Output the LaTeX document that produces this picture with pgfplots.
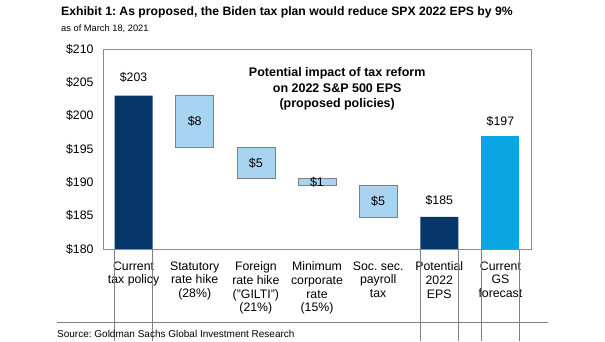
\documentclass[border=0pt]{standalone}
\usepackage{pgfplots}
\pgfplotsset{compat=1.18}
\usepackage{fontspec}
\setmainfont{Liberation Sans}
\definecolor{navy}{HTML}{05376B}
\definecolor{lightbar}{HTML}{A9D4F1}
\definecolor{brightbar}{HTML}{0AA5E3}
\definecolor{axgray}{HTML}{8C8C8C}
\frenchspacing
\begin{document}
\begin{tikzpicture}
\path[use as bounding box] (0,0) rectangle (605pt,-341pt);
\node[anchor=base west, font=\bfseries\fontsize{12.2}{14}\selectfont, inner sep=0pt] at (61pt,-15pt) {Exhibit 1: As proposed, the Biden tax plan would reduce SPX 2022 EPS by 9\%};
\node[anchor=base west, font=\fontsize{9.3}{11}\selectfont, inner sep=0pt] at (61pt,-31pt) {as of March 18, 2021};
\begin{axis}[
  at={(103pt,-249pt)}, anchor=south west,
  scale only axis, width=428pt, height=200pt,
  ybar stacked, bar width=38pt,
  xmin=-0.5, xmax=6.5, ymin=180, ymax=210,
  xtick={0,1,2,3,4,5,6},
  xticklabels={Current\\tax policy, Statutory\\rate hike\\(28\%), Foreign\\rate hike\\("GILTI")\\(21\%), Minimum\\corporate\\rate\\(15\%), Soc. sec.\\payroll\\tax, Potential\\2022\\EPS, Current\\GS\\forecast},
  ytick={180,185,190,195,200,205,210},
  yticklabels={\$180,\$185,\$190,\$195,\$200,\$205,\$210},
  major tick length=0pt,
  tick label style={font=\fontsize{12.3}{13.8}\selectfont},
  xticklabel style={align=center, yshift=-9pt},
  yticklabel style={xshift=-6pt},
  axis line style={axgray, line width=0.9pt},
]
% invisible base of the floating bars
\addplot[fill=none, draw=none, forget plot] coordinates {(0,0) (1,195.2) (2,190.6) (3,189.5) (4,184.8) (5,0) (6,0)};
% light blue changes
\addplot[fill=lightbar, draw=gray, line width=0.7pt] coordinates {(0,0) (1,7.9) (2,4.6) (3,1.1) (4,4.7) (5,0) (6,0)};
% navy totals
\addplot[fill=navy, draw=none] coordinates {(0,203) (1,0) (2,0) (3,0) (4,0) (5,184.8) (6,0)};
% GS forecast
\addplot[fill=brightbar, draw=none] coordinates {(0,0) (1,0) (2,0) (3,0) (4,0) (5,0) (6,197)};
\coordinate (l0) at (axis cs:0,203);
\coordinate (l5) at (axis cs:5,184.8);
\coordinate (l6) at (axis cs:6,197);
\coordinate (l1) at (axis cs:1,199.15);
\coordinate (l2) at (axis cs:2,192.9);
\coordinate (l3) at (axis cs:3,190.05);
\coordinate (l4) at (axis cs:4,187.15);
\coordinate (tt) at (axis cs:3.33,204);
\coordinate (e1) at (axis cs:-0.31,180);
\coordinate (e2) at (axis cs:0.31,180);
\coordinate (e3) at (axis cs:4.69,180);
\coordinate (e4) at (axis cs:5.31,180);
\coordinate (e5) at (axis cs:5.69,180);
\coordinate (e6) at (axis cs:6.31,180);
\end{axis}
\node[font=\fontsize{12.3}{14}\selectfont, anchor=south] at ([yshift=10pt]l0) {\$203};
\node[font=\fontsize{12.3}{14}\selectfont, anchor=south] at ([yshift=8pt]l5) {\$185};
\node[font=\fontsize{12.3}{14}\selectfont, anchor=south] at ([yshift=6pt]l6) {\$197};
\node[font=\fontsize{12.5}{14}\selectfont] at (l1) {\$8};
\node[font=\fontsize{12.5}{14}\selectfont] at (l2) {\$5};
\node[font=\fontsize{12.5}{14}\selectfont] at (l3) {\$1};
\node[font=\fontsize{12.5}{14}\selectfont] at (l4) {\$5};
\node[font=\bfseries\fontsize{12.5}{15.5}\selectfont, align=center] at (tt) {Potential impact of tax reform\\on 2022 S\&P 500 EPS\\(proposed policies)};
\foreach \c in {e1,e2,e3,e4,e5,e6}{
  \draw[gray, line width=0.5pt] (\c) -- ++(0,-92pt);
}
\draw[gray, line width=0.6pt] (57pt,-322pt) -- (548pt,-322pt);
\node[anchor=base west, font=\fontsize{10}{12}\selectfont, inner sep=0pt] at (57pt,-337pt) {Source: Goldman Sachs Global Investment Research};
\end{tikzpicture}
\end{document}
